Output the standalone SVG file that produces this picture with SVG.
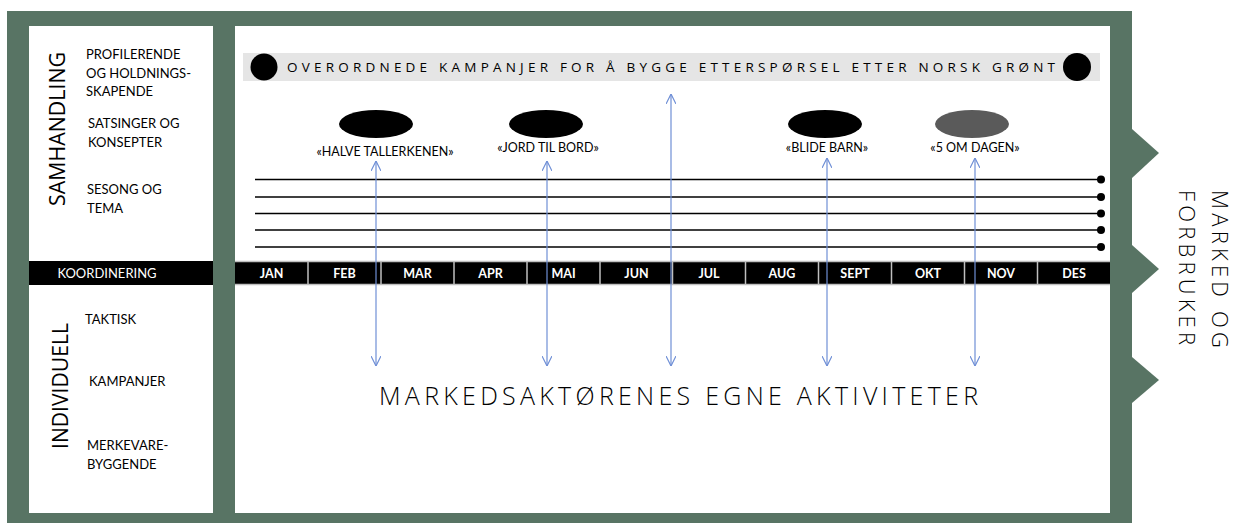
<svg xmlns="http://www.w3.org/2000/svg" width="1235" height="523" viewBox="0 0 1235 523">
<defs>
<style>
.frame{fill:#587464}
.panel{fill:#ffffff}
.lbl{font-family:Lato,"Open Sans","Liberation Sans",sans-serif;font-size:13px;fill:#000}
.big{font-family:"Open Sans",Lato,"Liberation Sans",sans-serif;font-weight:300;fill:#000}
.side{font-family:"Open Sans",Lato,"Liberation Sans",sans-serif;font-weight:400;fill:#000}
.mon{font-family:Lato,"Open Sans","Liberation Sans",sans-serif;font-size:12.5px;font-weight:700;fill:#fff;text-anchor:middle}
.camp{font-family:Lato,"Open Sans","Liberation Sans",sans-serif;font-size:12.5px;fill:#000;text-anchor:middle}
.tl{stroke:#000;stroke-width:1.5;fill:none}
.arr{stroke:#6f8fd6;stroke-width:1.2;fill:none}
</style>
<marker id="ah" viewBox="0 0 10 10" refX="10" refY="5" markerWidth="10" markerHeight="10" markerUnits="userSpaceOnUse" orient="auto-start-reverse">
<path d="M0,0 L10,5 L0,10" fill="none" stroke="#6f8fd6" stroke-width="1.2"/>
</marker>
</defs>

<g id="frame">
<rect class="frame" x="7" y="11" width="1125" height="512"/>
<polygon class="frame" points="1132,129 1159,153 1132,178"/>
<polygon class="frame" points="1132,245 1159,269 1132,293"/>
<polygon class="frame" points="1132,357 1159,380 1132,403"/>
<rect class="panel" x="29" y="26" width="184" height="487"/>
<rect class="panel" x="235" y="26" width="875" height="487"/>
</g>

<g id="left-panel">
<text class="side" font-size="22" transform="translate(65,206) rotate(-90)" textLength="154" lengthAdjust="spacingAndGlyphs">SAMHANDLING</text>
<text class="lbl" x="86" y="59">PROFILERENDE</text>
<text class="lbl" x="86" y="78">OG HOLDNINGS-</text>
<text class="lbl" x="86" y="96">SKAPENDE</text>
<text class="lbl" x="88" y="128">SATSINGER OG</text>
<text class="lbl" x="88" y="147">KONSEPTER</text>
<text class="lbl" x="87" y="194">SESONG OG</text>
<text class="lbl" x="87" y="213">TEMA</text>
<rect x="29" y="261" width="184" height="24" fill="#000"/>
<text class="lbl" x="107" y="277.5" style="fill:#fff" text-anchor="middle">KOORDINERING</text>
<text class="side" font-size="22" transform="translate(68,449) rotate(-90)" textLength="126" lengthAdjust="spacingAndGlyphs">INDIVIDUELL</text>
<text class="lbl" x="85" y="324">TAKTISK</text>
<text class="lbl" x="89" y="386">KAMPANJER</text>
<text class="lbl" x="87" y="450">MERKEVARE-</text>
<text class="lbl" x="87" y="469">BYGGENDE</text>
</g>

<g id="banner">
<rect x="243" y="53" width="857" height="28" fill="#e5e5e5"/>
<circle cx="264" cy="67" r="13.5" fill="#000"/>
<circle cx="1077" cy="67" r="14" fill="#000"/>
<text class="big" x="287" y="72" font-size="13.5" style="font-weight:400" textLength="768" lengthAdjust="spacing">OVERORDNEDE KAMPANJER FOR Å BYGGE ETTERSPØRSEL ETTER NORSK GRØNT</text>
</g>

<g id="campaign-halve">
<ellipse cx="376" cy="124" rx="37" ry="14" fill="#000"/>
<text class="camp" x="385" y="156">«HALVE TALLERKENEN»</text>
</g>
<g id="campaign-jord">
<ellipse cx="546" cy="124" rx="37" ry="14" fill="#000"/>
<text class="camp" x="548" y="152">«JORD TIL BORD»</text>
</g>
<g id="campaign-blide">
<ellipse cx="825" cy="124" rx="37" ry="14" fill="#000"/>
<text class="camp" x="827" y="152">«BLIDE BARN»</text>
</g>
<g id="campaign-5om">
<ellipse cx="972" cy="124" rx="37" ry="14" fill="#5a5a5a"/>
<text class="camp" x="975" y="152">«5 OM DAGEN»</text>
</g>

<g id="timelines">
<line class="tl" x1="255" y1="179.5" x2="1101" y2="179.5"/>
<line class="tl" x1="255" y1="197" x2="1101" y2="197"/>
<line class="tl" x1="255" y1="213.5" x2="1101" y2="213.5"/>
<line class="tl" x1="255" y1="230" x2="1101" y2="230"/>
<line class="tl" x1="255" y1="247" x2="1101" y2="247"/>
<circle cx="1101" cy="179.5" r="4"/>
<circle cx="1101" cy="197" r="4"/>
<circle cx="1101" cy="213.5" r="4"/>
<circle cx="1101" cy="230" r="4"/>
<circle cx="1101" cy="247" r="4"/>
</g>

<g id="months">
<rect x="235" y="261" width="875" height="24" fill="#000"/>
<g stroke="#bfbfbf" stroke-width="1.5">
<line x1="308" y1="261" x2="308" y2="285"/>
<line x1="381" y1="261" x2="381" y2="285"/>
<line x1="454" y1="261" x2="454" y2="285"/>
<line x1="527" y1="261" x2="527" y2="285"/>
<line x1="600" y1="261" x2="600" y2="285"/>
<line x1="672.5" y1="261" x2="672.5" y2="285"/>
<line x1="745.5" y1="261" x2="745.5" y2="285"/>
<line x1="818.5" y1="261" x2="818.5" y2="285"/>
<line x1="891.5" y1="261" x2="891.5" y2="285"/>
<line x1="964.5" y1="261" x2="964.5" y2="285"/>
<line x1="1037.5" y1="261" x2="1037.5" y2="285"/>
<line x1="235" y1="261.5" x2="1110" y2="261.5"/>
<line x1="235" y1="284.5" x2="1110" y2="284.5"/>
</g>
<text class="mon" x="271.5" y="277.5">JAN</text>
<text class="mon" x="344.5" y="277.5">FEB</text>
<text class="mon" x="417.5" y="277.5">MAR</text>
<text class="mon" x="490.5" y="277.5">APR</text>
<text class="mon" x="563.5" y="277.5">MAI</text>
<text class="mon" x="636.5" y="277.5">JUN</text>
<text class="mon" x="709" y="277.5">JUL</text>
<text class="mon" x="782" y="277.5">AUG</text>
<text class="mon" x="855" y="277.5">SEPT</text>
<text class="mon" x="928" y="277.5">OKT</text>
<text class="mon" x="1001" y="277.5">NOV</text>
<text class="mon" x="1074" y="277.5">DES</text>
</g>

<g id="connectors">
<line class="arr" x1="376" y1="161" x2="376" y2="366" marker-start="url(#ah)" marker-end="url(#ah)"/>
<line class="arr" x1="547" y1="161" x2="547" y2="366" marker-start="url(#ah)" marker-end="url(#ah)"/>
<line class="arr" x1="671" y1="94" x2="671" y2="366" marker-start="url(#ah)" marker-end="url(#ah)"/>
<line class="arr" x1="827" y1="158" x2="827" y2="366" marker-start="url(#ah)" marker-end="url(#ah)"/>
<line class="arr" x1="975" y1="158" x2="975" y2="366" marker-start="url(#ah)" marker-end="url(#ah)"/>
</g>

<g id="market-actors">
<text class="big" x="379" y="405" font-size="25" textLength="599" lengthAdjust="spacing">MARKEDSAKTØRENES EGNE AKTIVITETER</text>
</g>

<g id="market-consumer">
<text class="big" font-size="22" transform="translate(1212,190) rotate(90)" textLength="158" lengthAdjust="spacing">MARKED OG</text>
<text class="big" font-size="22" transform="translate(1179,190) rotate(90)" textLength="155" lengthAdjust="spacing">FORBRUKER</text>
</g>
</svg>
